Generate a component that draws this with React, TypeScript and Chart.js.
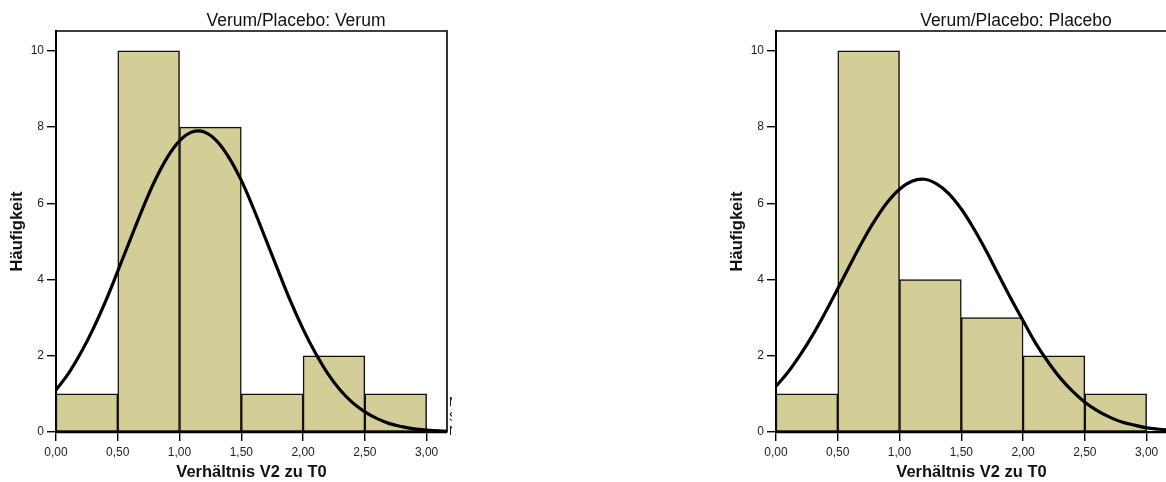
import React, { useEffect, useRef } from "react";
import { Chart, registerables } from "chart.js";

Chart.register(...registerables);

// ---- data ----
const binCenters = [0.25, 0.75, 1.25, 1.75, 2.25, 2.75];
const verumCounts = [1, 10, 8, 1, 2, 1];
const placeboCounts = [1, 10, 4, 3, 2, 1];

const curveX = [
  0, 0.1, 0.2, 0.3, 0.4, 0.5, 0.6, 0.7, 0.8, 0.9, 1.0, 1.1, 1.2, 1.3, 1.4, 1.5, 1.6,
  1.7, 1.8, 1.9, 2.0, 2.1, 2.2, 2.3, 2.4, 2.5, 2.6, 2.7, 2.8, 2.9, 3.0, 3.1, 3.2,
];
const verumCurve = [
  1.1, 1.53, 2.07, 2.7, 3.42, 4.22, 5.04, 5.85, 6.59, 7.2, 7.64, 7.87, 7.87, 7.64,
  7.2, 6.6, 5.85, 5.04, 4.22, 3.42, 2.7, 2.07, 1.53, 1.1, 0.77, 0.53, 0.35, 0.22,
  0.14, 0.083, 0.05, 0.028, 0.015,
];
const placeboCurve = [
  1.2, 1.58, 2.04, 2.56, 3.14, 3.76, 4.39, 5.0, 5.55, 6.02, 6.37, 6.58, 6.63, 6.51,
  6.25, 5.85, 5.34, 4.76, 4.13, 3.51, 2.92, 2.34, 1.85, 1.42, 1.07, 0.78, 0.56, 0.39,
  0.26, 0.18, 0.11, 0.072, 0.044,
];

const xTicks = [0, 0.5, 1, 1.5, 2, 2.5, 3];
const yTicks = [0, 2, 4, 6, 8, 10];
const panelTitles = ["Verum/Placebo: Verum", "Verum/Placebo: Placebo"];
const legendLabels = ["Mittelwert =", "Std.-Abw. =", "N ="];
const xTitle = "Verhältnis V2 zu T0";
const yTitle = "Häufigkeit";

const FONT = '"Liberation Sans", Arial, Helvetica, sans-serif';
const BAR_COLOR = "rgb(211, 206, 152)";

const framePlugin = {
  id: "spssFrame",
  afterDraw(chart: any, _args: any, opts: any) {
    const { ctx, chartArea: a } = chart;
    ctx.save();
    ctx.strokeStyle = "#000";
    ctx.lineWidth = 1.6;
    ctx.beginPath();
    ctx.moveTo(a.left, a.top);
    ctx.lineTo(a.right, a.top);
    ctx.lineTo(a.right, a.bottom);
    ctx.stroke();

    ctx.fillStyle = "#111";
    ctx.font = `17.5px ${FONT}`;
    ctx.textAlign = "center";
    ctx.textBaseline = "alphabetic";
    ctx.fillText(opts.title, a.left + 240, 26);

    if (opts.legend) {
      ctx.font = `12px ${FONT}`;
      ctx.textAlign = "left";
      legendLabels.forEach((t, i) => {
        ctx.fillText(t, a.right + 2, 406 + i * 14.5);
      });
    }
    ctx.restore();
  },
};

function Panel({ title, counts, curve, legend }: { title: string; counts: number[]; curve: number[]; legend: boolean }) {
  const ref = useRef<HTMLCanvasElement | null>(null);

  useEffect(() => {
    if (!ref.current) return;
    const chart = new Chart(ref.current, {
      type: "bar",
      data: {
        datasets: [
          {
            type: "bar",
            data: binCenters.map((x, i) => ({ x, y: counts[i] })),
            backgroundColor: BAR_COLOR,
            borderColor: "#111",
            borderWidth: 1.5,
            borderSkipped: false,
            barPercentage: 1,
            categoryPercentage: 1,
            order: 2,
          } as any,
          {
            type: "line",
            data: curveX.map((x, i) => ({ x, y: curve[i] })),
            borderColor: "#000",
            borderWidth: 3.2,
            pointRadius: 0,
            fill: false,
            tension: 0.4,
            cubicInterpolationMode: "default",
            order: 1,
          } as any,
        ],
      },
      options: {
        responsive: false,
        animation: false,
        devicePixelRatio: 1,
        layout: { padding: { left: 0, top: 31, right: 13, bottom: 0 } },
        plugins: {
          legend: { display: false },
          tooltip: { enabled: false },
          title: { display: false },
          spssFrame: { title, legend },
        } as any,
        scales: {
          x: {
            type: "linear",
            min: 0,
            max: 3.165,
            offset: false,
            afterBuildTicks: (s: any) => {
              s.ticks = xTicks.map((v) => ({ value: v }));
            },
            afterFit: (s: any) => {
              s.height = 50;
            },
            grid: {
              display: true,
              offset: false,
              drawOnChartArea: false,
              drawTicks: true,
              tickLength: 9,
              color: "#000",
              tickColor: "#000",
              lineWidth: 1.4,
            },
            border: { display: true, color: "#000", width: 2.2 },
            ticks: {
              autoSkip: false,
              maxRotation: 0,
              padding: 4,
              color: "#222",
              font: { family: FONT, size: 12 },
              callback: (v: any) => Number(v).toFixed(2).replace(".", ","),
            },
            title: {
              display: true,
              text: xTitle,
              color: "#111",
              font: { family: FONT, size: 16.5, weight: "bold", lineHeight: 1 },
              padding: { top: 0, bottom: 1.5 },
            },
          },
          y: {
            type: "linear",
            min: 0,
            max: 10.52,
            afterBuildTicks: (s: any) => {
              s.ticks = yTicks.map((v) => ({ value: v }));
            },
            afterFit: (s: any) => {
              s.width = 56;
            },
            grid: {
              display: true,
              offset: false,
              drawOnChartArea: false,
              drawTicks: true,
              tickLength: 9,
              color: "#000",
              tickColor: "#000",
              lineWidth: 1.4,
            },
            border: { display: true, color: "#000", width: 2 },
            ticks: {
              autoSkip: false,
              padding: 3,
              color: "#222",
              font: { family: FONT, size: 12 },
              callback: (v: any) => String(v),
            },
            title: {
              display: true,
              text: yTitle,
              color: "#111",
              font: { family: FONT, size: 16.5, weight: "bold", lineHeight: 1 },
              padding: { top: 9, bottom: 0 },
            },
          },
        },
      } as any,
      plugins: [framePlugin as any],
    });
    return () => chart.destroy();
  }, [title, counts, curve, legend]);

  return <canvas ref={ref} width={460} height={482} style={{ display: "block", width: 460, height: 482 }} />;
}

export default function App() {
  return (
    <div style={{ position: "absolute", left: 0, top: 0, width: 1166, height: 482, background: "#fff", overflow: "hidden" }}>
      <div style={{ position: "absolute", left: 0, top: 0, width: 452, height: 482, overflow: "hidden" }}>
        <Panel title={panelTitles[0]} counts={verumCounts} curve={verumCurve} legend={true} />
      </div>
      <div style={{ position: "absolute", left: 720, top: 0, width: 446, height: 482, overflow: "hidden" }}>
        <Panel title={panelTitles[1]} counts={placeboCounts} curve={placeboCurve} legend={false} />
      </div>
    </div>
  );
}
